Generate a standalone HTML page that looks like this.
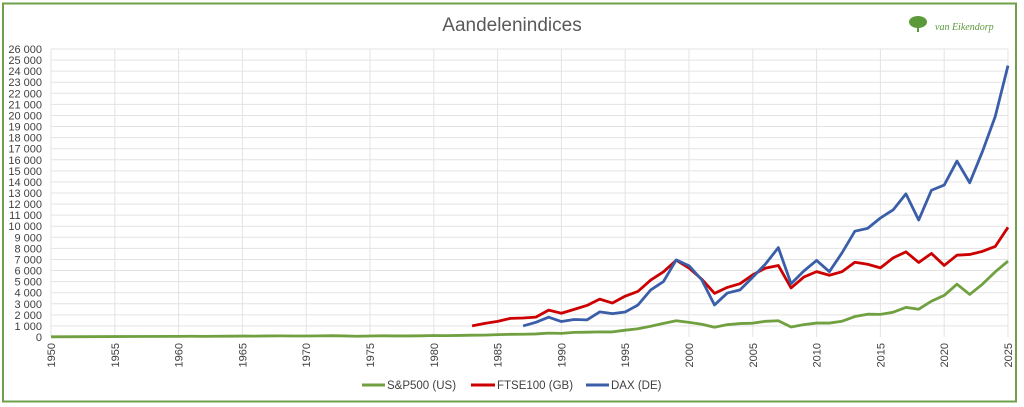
<!DOCTYPE html>
<html><head><meta charset="utf-8"><style>
html,body{margin:0;padding:0;background:#fff;}
svg{display:block;font-family:"Liberation Sans",sans-serif;}
</style></head><body>
<svg width="1024" height="407" xmlns="http://www.w3.org/2000/svg">
<rect x="3" y="3.5" width="1013" height="398" fill="#fff" stroke="#70a04c" stroke-width="2"/>
<text x="512" y="31" text-anchor="middle" font-size="19" fill="#595959">Aandelenindices</text>
<g fill="#5a9a3a">
<ellipse cx="918" cy="22" rx="9" ry="6"/><rect x="917" y="26" width="2" height="6"/>
<text x="935" y="30" font-size="10" font-family="Liberation Serif,serif" font-style="italic">van Eikendorp</text>
</g>
<g stroke="#e3e3e3" stroke-width="1">
<path id="hg" d=""/>
</g>
<g id="grid" stroke="#e3e3e3" stroke-width="1"></g>
<g id="ylab" font-size="11" fill="#404040" text-anchor="end"></g>
<g id="xlab" font-size="11" fill="#404040" text-anchor="end"></g>
<g transform="translate(51,337) scale(12.76,-0.011077)" fill="none" stroke-width="2.8" stroke-linejoin="round">
<polyline vector-effect="non-scaling-stroke" stroke="#70a040" points="0,17 5,40 10,58 11,68 12,59 13,66 14,75 15,85 16,80 17,96 18,103 19,92 20,92 21,102 22,118 23,97 24,68 25,90 26,107 27,95 28,96 29,108 30,136 31,122 32,141 33,165 34,167 35,211 36,242 37,247 38,278 39,353 40,330 41,417 42,436 43,466 44,459 45,615 46,741 47,970 48,1229 49,1469 50,1320 51,1148 52,880 53,1112 54,1212 55,1248 56,1418 57,1468 58,903 59,1115 60,1258 61,1258 62,1426 63,1848 64,2059 65,2044 66,2239 67,2674 68,2507 69,3231 70,3756 71,4766 72,3840 73,4770 74,5882 75,6850"/>
<polyline vector-effect="non-scaling-stroke" stroke="#cc0000" points="33,1000 34,1232 35,1413 36,1679 37,1713 38,1793 39,2423 40,2144 41,2493 42,2847 43,3418 44,3066 45,3689 46,4119 47,5136 48,5883 49,6930 50,6222 51,5217 52,3940 53,4477 54,4814 55,5619 56,6221 57,6457 58,4434 59,5413 60,5900 61,5572 62,5898 63,6749 64,6566 65,6242 66,7143 67,7688 68,6728 69,7542 70,6461 71,7385 72,7452 73,7733 74,8173 75,9900"/>
<polyline vector-effect="non-scaling-stroke" stroke="#3a5ea8" points="37,1000 38,1328 39,1790 40,1398 41,1578 42,1545 43,2267 44,2107 45,2254 46,2889 47,4250 48,5002 49,6958 50,6434 51,5160 52,2893 53,3965 54,4256 55,5408 56,6597 57,8067 58,4810 59,5957 60,6914 61,5898 62,7612 63,9552 64,9806 65,10743 66,11481 67,12918 68,10559 69,13249 70,13719 71,15885 72,13924 73,16752 74,19909 75,24500"/>
</g>
<g font-size="11.5" fill="#404040">
<line x1="362" y1="385" x2="385" y2="385" stroke="#70a040" stroke-width="3"/><text x="387" y="389">S&amp;P500 (US)</text>
<line x1="471" y1="385" x2="495" y2="385" stroke="#cc0000" stroke-width="3"/><text x="497" y="389">FTSE100 (GB)</text>
<line x1="586" y1="385" x2="609" y2="385" stroke="#3a5ea8" stroke-width="3"/><text x="611" y="389">DAX (DE)</text>
</g>
<script>
var ns="http://www.w3.org/2000/svg",g=document.getElementById("grid"),yl=document.getElementById("ylab"),xl=document.getElementById("xlab");
function el(t,a,p,tx){var e=document.createElementNS(ns,t);for(var k in a)e.setAttribute(k,a[k]);if(tx)e.textContent=tx;p.appendChild(e);}
for(var v=0;v<=26000;v+=1000){var y=337-v*0.011077;if(v>0)el("line",{x1:51,x2:1008,y1:y,y2:y},g);
var s=v==0?"0":(Math.floor(v/1000)+" 000");el("text",{x:42,y:y+4},yl,s);}
for(var yr=1950;yr<=2025;yr+=5){var x=51+(yr-1950)*12.76;el("line",{x1:x,x2:x,y1:49,y2:337},g);
el("text",{x:0,y:0,transform:"translate("+(x+4)+",343) rotate(-90)"},xl,""+yr);}
</script>
</svg>
</body></html>
